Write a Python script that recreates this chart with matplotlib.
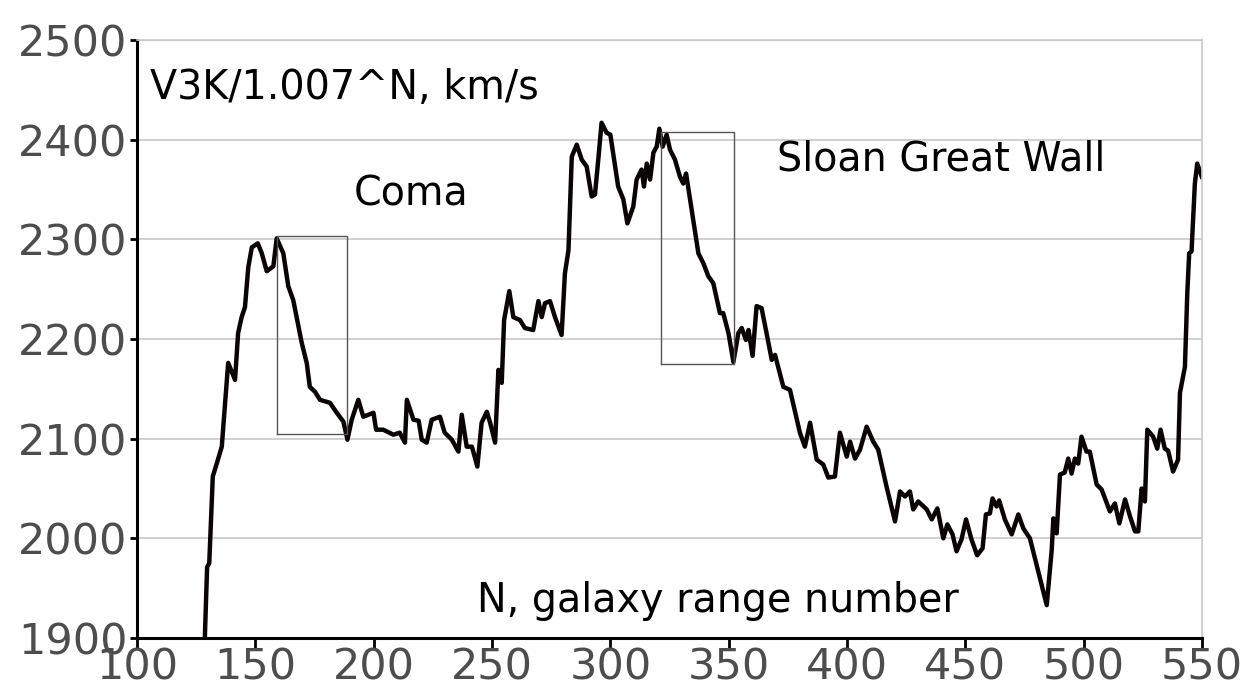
import numpy as np
from matplotlib import pyplot as plt

# N, galaxy range number
n = [128.5, 129.6, 130.5, 132, 133.8, 135.8, 137.2, 138.5, 141.4, 142.7,
     144.2, 145.6, 147, 148.5, 151, 152.7, 154.8, 157.6, 159, 161.8,
     163.9, 166, 169.6, 171.7, 173, 175.2, 177.3, 181.5, 184.4, 187.2,
     188.9, 190.7, 193.5, 195.6, 199.9, 201, 204, 208.3, 211, 213.2,
     214, 216.8, 219, 220.3, 222.4, 224.5, 228, 230, 233, 235.8,
     237.2, 239.3, 241.5, 243.8, 245.6, 247.8, 249.2, 251.3, 252.7, 254.1,
     255.1, 257.3, 259, 261.8, 263.9, 267.4, 269.6, 271, 272.4, 274.5,
     276.6, 279.4, 280.8, 282.3, 283.7, 285.8, 287.9, 290, 292.1, 293.5,
     294.9, 296.3, 298.4, 300, 303.3, 305.5, 307.2, 309.7, 311.1, 313.2,
     314.2, 315.4, 316.8, 318.2, 319.6, 320.7, 322.1, 323.8, 325.2, 327.3,
     329.4, 330.8, 332, 333.7, 337.2, 339.3, 341.4, 343.5, 346.3, 347.7,
     349.9, 352, 354.1, 355.5, 357.3, 358.4, 360.1, 361.8, 363.9, 366,
     368.2, 369.6, 373.1, 375.9, 380.1, 382.2, 384.4, 387.2, 390, 392.1,
     394.9, 397, 399.9, 401.3, 403.4, 405.5, 408.3, 411.1, 413.2, 416.7,
     420.3, 422.4, 424.5, 426.6, 428, 430.1, 433.7, 435.8, 438.2, 440.7,
     442.4, 444.6, 446.3, 448.4, 450.3, 452.6, 455, 457.3, 458.7, 460.4,
     461.5, 463.2, 464.3, 466.7, 469.6, 472.4, 474.5, 477.3, 484.4, 486.5,
     487.2, 488.6, 490, 492, 493.5, 494.9, 496.3, 497.7, 499.1, 501.2,
     502.6, 505.5, 507.6, 511.1, 513.2, 515.1, 517.5, 519.6, 521.7, 523.1,
     524.5, 525.9, 526.9, 529.4, 531.1, 532.5, 534.3, 535.7, 537.8, 539.9,
     540.7, 542.8, 543.8, 544.6, 545.6, 547, 548, 549.9]

# V3K/1.007^N, km/s
v = [1890, 1971, 1975, 2062, 2076, 2092, 2136, 2176, 2159, 2206,
     2222, 2232, 2272, 2292, 2296, 2286, 2268, 2273, 2301, 2286,
     2253, 2239, 2196, 2176, 2152, 2147, 2139, 2136, 2126, 2117,
     2099, 2119, 2139, 2122, 2126, 2109, 2109, 2104, 2106, 2096,
     2139, 2119, 2118, 2099, 2096, 2119, 2122, 2106, 2099, 2087,
     2124, 2092, 2092, 2072, 2116, 2127, 2116, 2096, 2169, 2156,
     2219, 2248, 2222, 2219, 2211, 2209, 2238, 2222, 2236, 2238,
     2222, 2204, 2266, 2289, 2383, 2395, 2380, 2373, 2343, 2345,
     2380, 2417, 2407, 2405, 2353, 2340, 2316, 2333, 2360, 2370,
     2353, 2376, 2360, 2387, 2393, 2411, 2393, 2405, 2390, 2380,
     2363, 2356, 2366, 2340, 2286, 2276, 2263, 2256, 2226, 2226,
     2206, 2177, 2206, 2211, 2199, 2209, 2183, 2233, 2231, 2206,
     2179, 2184, 2152, 2149, 2106, 2092, 2116, 2079, 2074, 2061,
     2062, 2106, 2082, 2097, 2080, 2089, 2112, 2097, 2089, 2052,
     2017, 2047, 2042, 2047, 2029, 2037, 2029, 2019, 2030, 2000,
     2014, 2004, 1987, 1999, 2019, 1999, 1983, 1990, 2024, 2025,
     2040, 2032, 2038, 2019, 2004, 2024, 2010, 2000, 1933, 1988,
     2020, 2005, 2064, 2066, 2080, 2065, 2080, 2075, 2102, 2087,
     2087, 2054, 2049, 2027, 2035, 2015, 2039, 2022, 2007, 2007,
     2050, 2037, 2109, 2102, 2090, 2109, 2090, 2088, 2067, 2079,
     2146, 2172, 2246, 2286, 2288, 2356, 2376, 2363]

# highlighted regions: (x0, x1, y0, y1)
coma_box = (159.2, 188.7, 2105, 2303)
sgw_box = (321.4, 352.2, 2175, 2408)

xticks = [100, 150, 200, 250, 300, 350, 400, 450, 500, 550]
yticks = [1900, 2000, 2100, 2200, 2300, 2400, 2500]

fig = plt.figure(figsize=(12.54, 6.91), dpi=100)
ax = fig.add_axes([0.1093, 0.0767, 0.8492, 0.8654])

ax.plot(n, v, color='#0a0505', lw=3.2, solid_joinstyle='round')

for x0, x1, y0, y1 in (coma_box, sgw_box):
    ax.plot([x0, x1, x1, x0, x0], [y0, y0, y1, y1, y0], color='#555555', lw=1.0)

ax.set_xlim(100, 550)
ax.set_ylim(1900, 2500)
ax.set_xticks(xticks)
ax.set_yticks(yticks)
ax.grid(axis='y', color='#c8c8c8', lw=1.2)
ax.set_axisbelow(True)

for s in ('top', 'right'):
    ax.spines[s].set_color('#c8c8c8')
    ax.spines[s].set_linewidth(1.2)
for s in ('left', 'bottom'):
    ax.spines[s].set_color('black')
    ax.spines[s].set_linewidth(2.2)

ax.tick_params(axis='both', labelsize=31, labelcolor='#4d4d4d', color='black', width=2)
ax.tick_params(axis='x', length=7, pad=-1)
ax.tick_params(axis='y', length=5, pad=2)

fs = 28.5
ax.text(105.5, 2452, 'V3K/1.007^N, km/s', fontsize=fs, va='center', ha='left')
ax.text(216, 2345, 'Coma', fontsize=fs, va='center', ha='center')
ax.text(370.5, 2380, 'Sloan Great Wall', fontsize=fs, va='center', ha='left')
ax.text(345.5, 1937, 'N, galaxy range number', fontsize=fs, va='center', ha='center')

fig.savefig('out.png', dpi=100)
